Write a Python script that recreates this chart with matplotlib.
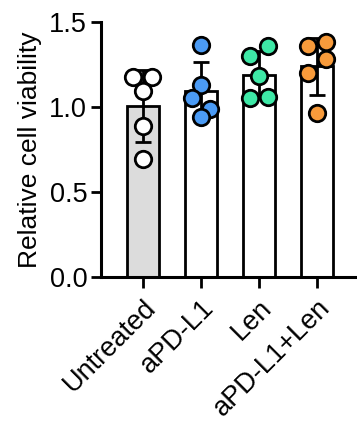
import numpy as np
import matplotlib
matplotlib.use("Agg")
import matplotlib.pyplot as plt

plt.rcParams['font.family'] = ['Liberation Sans', 'DejaVu Sans']

categories = ["Untreated", "aPD-L1", "Len", "aPD-L1+Len"]
values = [
    [1.176, 1.176, 1.094, 0.886, 0.690],
    [1.363, 1.128, 1.053, 0.985, 0.941],
    [1.298, 1.357, 1.180, 1.049, 1.059],
    [1.357, 1.382, 1.279, 1.200, 0.965],
]
# horizontal jitter (in bar units) of each replicate dot
jitter = [
    [-0.16, 0.155, 0.0, 0.0, 0.0],
    [0.0, 0.0, -0.155, 0.15, 0.0],
    [-0.15, 0.15, 0.0, -0.15, 0.155],
    [-0.155, 0.15, 0.15, -0.155, 0.0],
]
bar_colors = ["#DCDCDC", "white", "white", "white"]
dot_colors = ["white", "#4B9BF5", "#3EE8A6", "#F89B3B"]
yticks = [0.0, 0.5, 1.0, 1.5]
ylabel = "Relative cell viability"

fig = plt.figure(figsize=(3.57, 4.32), dpi=100)
ax = fig.add_axes([0.283, 0.359, 0.714, 0.591])

x = np.arange(len(categories))
means = [np.mean(v) for v in values]
sds = [np.std(v, ddof=1) for v in values]

ax.bar(x, means, width=0.55, color=bar_colors, edgecolor="black", linewidth=2.0, zorder=1)
ax.errorbar(x, means, yerr=sds, fmt="none", ecolor="black", elinewidth=2.0,
            capsize=5.5, capthick=2.0, zorder=2)
for i, (v, j) in enumerate(zip(values, jitter)):
    ax.scatter(x[i] + np.array(j), v, s=140, c=dot_colors[i], edgecolors="black",
               linewidths=2.0, zorder=3, clip_on=False)

ax.set_xlim(-0.716, 3.665)
ax.set_ylim(0, 1.5)
ax.set_yticks(yticks)
ax.set_yticklabels([f"{t:.1f}" for t in yticks])
ax.set_xticks(x)
ax.set_xticklabels(categories, rotation=45, ha="right", rotation_mode="anchor")
ax.set_ylabel(ylabel, fontsize=19, labelpad=5)
ax.tick_params(axis="both", labelsize=19.5, width=2.0, length=7, color="black", pad=3)
ax.tick_params(axis="x", length=8, pad=5)
for s in ["top", "right"]:
    ax.spines[s].set_visible(False)
for s in ["left", "bottom"]:
    ax.spines[s].set_linewidth(2.2)

fig.savefig("out.png", dpi=100)
